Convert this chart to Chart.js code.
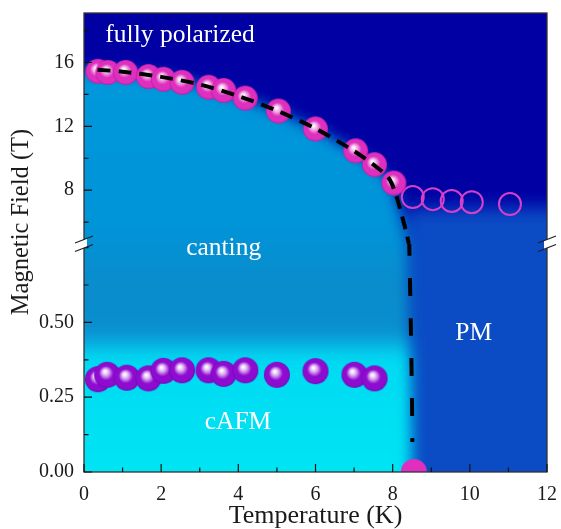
<!DOCTYPE html>
<html>
<head>
<meta charset="utf-8">
<script src="https://cdn.jsdelivr.net/npm/chart.js@4.4.1/dist/chart.umd.min.js"></script>
<style>
  html, body { margin: 0; padding: 0; background: #fff; }
  #wrap { width: 561px; height: 529px; }
</style>
</head>
<body>
<div id="wrap"><canvas id="phase"></canvas></div>
<script>
// high-field transition (filled magenta spheres)
const highT = [0.36, 0.62, 1.08, 1.67, 2.06, 2.54, 3.23, 3.62, 4.18, 5.04, 6.0, 7.04, 7.53, 8.03];
const highB = [15.45, 15.38, 15.38, 15.12, 14.95, 14.76, 14.45, 14.25, 13.77, 12.96, 11.84, 10.47, 9.6, 8.45];
// open circles above T_N
const openT = [8.52, 9.04, 9.53, 10.05, 11.04];
const openB = [7.57, 7.44, 7.32, 7.25, 7.13];
// low-field transition (purple spheres)
const lowT = [0.36, 0.6, 1.11, 1.67, 2.06, 2.54, 3.23, 3.62, 4.18, 5.0, 6.0, 7.01, 7.53];
const lowB = [0.31, 0.325, 0.315, 0.313, 0.338, 0.34, 0.34, 0.328, 0.34, 0.325, 0.337, 0.325, 0.313];
// zero-field T_N
const zeroT = [8.55];
const zeroB = [0];
// dashed phase boundary, upper and lower part
const lineHighT = [0.35, 1, 2, 3, 4, 5, 6, 7, 7.5, 7.9, 8.1, 8.25, 8.36, 8.42];
const lineHighB = [15.55, 15.42, 15.1, 14.62, 13.9, 12.98, 11.86, 10.45, 9.6, 8.75, 7.6, 6.3, 5.3, 4.63];
const lineLowT = [8.43, 8.47, 8.5, 8.51];
const lineLowB = [0.762, 0.5, 0.25, 0.1];

const xTicksLabeled = [0, 2, 4, 6, 8, 10, 12];
const highTicksLabeled = [8, 12, 16];
const lowTicksLabeled = [0, 0.25, 0.5];

const pts = (xs, ys) => xs.map((v, i) => ({ x: v, y: ys[i] }));
const serif = "'Liberation Serif', 'Times New Roman', serif";

function makeSphere(r, hi, base, dark) {
  const s = Math.ceil(2 * r + 2);
  const c = document.createElement('canvas');
  c.width = c.height = s;
  const g = c.getContext('2d');
  const cx = s / 2, cy = s / 2;
  const grad = g.createRadialGradient(cx - r * 0.18, cy - r * 0.28, 0, cx, cy, r);
  grad.addColorStop(0, '#ffffff');
  grad.addColorStop(0.1, '#faeefa');
  grad.addColorStop(0.28, hi);
  grad.addColorStop(0.55, base);
  grad.addColorStop(0.88, base);
  grad.addColorStop(1, dark);
  g.fillStyle = grad;
  g.beginPath();
  g.arc(cx, cy, r, 0, Math.PI * 2);
  g.fill();
  return c;
}
const magentaBall = makeSphere(12.5, '#f0a8e4', '#de2fbf', '#bc1ca4');
const purpleBall = makeSphere(13, '#d8a4f2', '#8e0ccf', '#7208b4');

// no extra room for edge tick labels, the layout padding sets the plot box
function noPad(s) {
  s.paddingLeft = s.paddingRight = s.paddingTop = s.paddingBottom = 0;
}

// paint the phase regions behind the points
const phaseBg = {
  id: 'phaseBg',
  beforeDatasetsDraw(chart) {
    const { ctx, chartArea: a, scales } = chart;
    const x = scales.x, yh = scales.yHigh, yl = scales.yLow;
    const w = a.right - a.left, h = a.bottom - a.top;
    ctx.save();
    ctx.beginPath();
    ctx.rect(a.left, a.top, w, h);
    ctx.clip();
    ctx.fillStyle = '#0000a3';
    ctx.fillRect(a.left, a.top, w, h);

    // PM
    ctx.filter = 'blur(9px)';
    ctx.fillStyle = '#0b4cc5';
    const pmX = x.getPixelForValue(8.3), pmY = yh.getPixelForValue(6.9);
    ctx.fillRect(pmX, pmY, a.right + 40 - pmX, a.bottom + 40 - pmY);

    // canting + cAFM
    const frac = p => Math.min(1, Math.max(0, (p - a.top) / h));
    const g = ctx.createLinearGradient(0, a.top, 0, a.bottom);
    g.addColorStop(0, '#0098dc');
    g.addColorStop(frac(yh.getPixelForValue(6)), '#0094d8');
    g.addColorStop(frac(yl.getPixelForValue(0.62)), '#0a8ccc');
    g.addColorStop(frac(yl.getPixelForValue(0.47)), '#0a8ecf');
    g.addColorStop(frac(yl.getPixelForValue(0.42)), '#06b6e4');
    g.addColorStop(frac(yl.getPixelForValue(0.38)), '#00daf2');
    g.addColorStop(1, '#00e4f4');
    ctx.filter = 'blur(7px)';
    ctx.fillStyle = g;
    ctx.beginPath();
    ctx.moveTo(a.left - 40, yh.getPixelForValue(lineHighB[0]));
    lineHighT.forEach((t, i) => ctx.lineTo(x.getPixelForValue(t), yh.getPixelForValue(lineHighB[i])));
    lineLowT.forEach((t, i) => ctx.lineTo(x.getPixelForValue(t), yl.getPixelForValue(lineLowB[i])));
    ctx.lineTo(x.getPixelForValue(lineLowT[lineLowT.length - 1]), a.bottom + 40);
    ctx.lineTo(a.left - 40, a.bottom + 40);
    ctx.closePath();
    ctx.fill();
    ctx.filter = 'none';
    ctx.restore();
  },
  afterDraw(chart) {
    const { ctx, chartArea: a, scales } = chart;
    const x = scales.x, yh = scales.yHigh, yl = scales.yLow;
    ctx.save();
    // frame
    ctx.strokeStyle = '#333';
    ctx.lineWidth = 1.3;
    ctx.strokeRect(a.left, a.top, a.right - a.left, a.bottom - a.top);

    // inward ticks
    ctx.strokeStyle = '#111';
    ctx.lineWidth = 1.2;
    ctx.beginPath();
    x.ticks.forEach(t => {
      const px = x.getPixelForValue(t.value);
      const len = xTicksLabeled.includes(t.value) ? 8 : 4.5;
      ctx.moveTo(px, a.bottom); ctx.lineTo(px, a.bottom - len);
    });
    yh.ticks.forEach(t => {
      const py = yh.getPixelForValue(t.value);
      const len = highTicksLabeled.includes(t.value) ? 8 : 4.5;
      ctx.moveTo(a.left, py); ctx.lineTo(a.left + len, py);
    });
    yl.ticks.forEach(t => {
      const py = yl.getPixelForValue(t.value);
      const len = lowTicksLabeled.some(v => Math.abs(v - t.value) < 1e-6) ? 8 : 4.5;
      ctx.moveTo(a.left, py); ctx.lineTo(a.left + len, py);
    });
    ctx.stroke();

    // axis break marks
    const yb = yl.top;
    [a.left, a.right].forEach(px => {
      ctx.fillStyle = '#fff';
      ctx.beginPath();
      ctx.moveTo(px - 3, yb - 3.3);
      ctx.lineTo(px + 3, yb - 5.6);
      ctx.lineTo(px + 3, yb + 2.8);
      ctx.lineTo(px - 3, yb + 5.2);
      ctx.closePath();
      ctx.fill();
      ctx.strokeStyle = '#222';
      ctx.lineWidth = 1.3;
      ctx.beginPath();
      ctx.moveTo(px - 9, yb - 1); ctx.lineTo(px + 9, yb - 8);
      ctx.moveTo(px - 9, yb + 7.5); ctx.lineTo(px + 9, yb + 0.5);
      ctx.stroke();
    });

    // region labels
    ctx.fillStyle = '#fff';
    ctx.font = '25.5px ' + serif;
    ctx.textAlign = 'center';
    ctx.textBaseline = 'middle';
    ctx.fillText('fully polarized', x.getPixelForValue(2.49), yh.getPixelForValue(17.7));
    ctx.fillText('canting', x.getPixelForValue(3.62), yl.getPixelForValue(0.748));
    ctx.fillText('cAFM', x.getPixelForValue(3.99), yl.getPixelForValue(0.165));
    ctx.fillText('PM', x.getPixelForValue(10.1), yl.getPixelForValue(0.465));

    // y title
    ctx.fillStyle = '#1a1a1a';
    ctx.font = '24.5px ' + serif;
    ctx.translate(22, 222);
    ctx.rotate(-Math.PI / 2);
    ctx.fillText('Magnetic Field (T)', 0, 0);
    ctx.restore();
  }
};

const tickFont = { family: serif, size: 20 };

new Chart(document.getElementById('phase'), {
  type: 'scatter',
  data: {
    datasets: [
      {
        label: 'boundary high', data: pts(lineHighT, lineHighB), yAxisID: 'yHigh',
        showLine: true, pointRadius: 0, borderColor: '#000', borderWidth: 4,
        borderDash: [13, 8], tension: 0.3, order: 0
      },
      {
        label: 'boundary low', data: pts(lineLowT, lineLowB), yAxisID: 'yLow',
        showLine: true, pointRadius: 0, borderColor: '#000', borderWidth: 4,
        borderDash: [18, 22], borderDashOffset: 6, tension: 0.3, order: 0
      },
      {
        label: 'high', data: pts(highT, highB), yAxisID: 'yHigh',
        pointStyle: magentaBall, order: 1
      },
      {
        label: 'open', data: pts(openT, openB), yAxisID: 'yHigh',
        pointStyle: 'circle', pointRadius: 11, borderWidth: 2,
        borderColor: '#d640c8', backgroundColor: 'rgba(0,0,0,0)', order: 1
      },
      {
        label: 'low', data: pts(lowT, lowB), yAxisID: 'yLow',
        pointStyle: purpleBall, order: 1
      },
      {
        label: 'zero', data: pts(zeroT, zeroB), yAxisID: 'yLow',
        pointStyle: 'circle', pointRadius: 13, borderWidth: 0,
        backgroundColor: '#e02fbf', clip: 0, order: 1
      }
    ]
  },
  options: {
    responsive: true,
    maintainAspectRatio: false,
    animation: false,
    devicePixelRatio: 1,
    layout: { padding: { top: 9, right: 14, left: 0, bottom: 0 } },
    plugins: { legend: { display: false }, tooltip: { enabled: false } },
    scales: {
      x: {
        type: 'linear', min: 0, max: 12,
        grid: { display: false, drawTicks: false },
        border: { display: false },
        ticks: {
          stepSize: 1, autoSkip: false, maxRotation: 0, padding: 11,
          color: '#1a1a1a', font: tickFont,
          callback: v => xTicksLabeled.includes(v) ? String(v) : ''
        },
        title: {
          display: true, text: 'Temperature (K)', color: '#1a1a1a',
          font: { family: serif, size: 26, lineHeight: 1.0 }, padding: { top: 0, bottom: 0 }
        },
        afterFit: s => { s.height = 57; noPad(s); }
      },
      // left boxes are laid out in reverse order, so the lower section comes first
      yLow: {
        type: 'linear', position: 'left', stack: 'field', stackWeight: 230,
        min: 0, max: 0.762,
        grid: { display: false, drawTicks: false },
        border: { display: false },
        ticks: {
          stepSize: 0.125, includeBounds: false, autoSkip: false, padding: 10,
          color: '#1a1a1a', font: tickFont,
          callback: v => lowTicksLabeled.some(t => Math.abs(t - v) < 1e-6) ? v.toFixed(2) : ''
        },
        afterFit: s => { s.width = 84; noPad(s); }
      },
      yHigh: {
        type: 'linear', position: 'left', stack: 'field', stackWeight: 233,
        min: 4.63, max: 19.1,
        grid: { display: false, drawTicks: false },
        border: { display: false },
        ticks: {
          stepSize: 2, includeBounds: false, autoSkip: false, padding: 10,
          color: '#1a1a1a', font: tickFont,
          callback: v => highTicksLabeled.includes(v) ? String(v) : ''
        },
        afterFit: s => { s.width = 84; noPad(s); }
      }
    }
  },
  plugins: [phaseBg]
});
</script>
</body>
</html>
